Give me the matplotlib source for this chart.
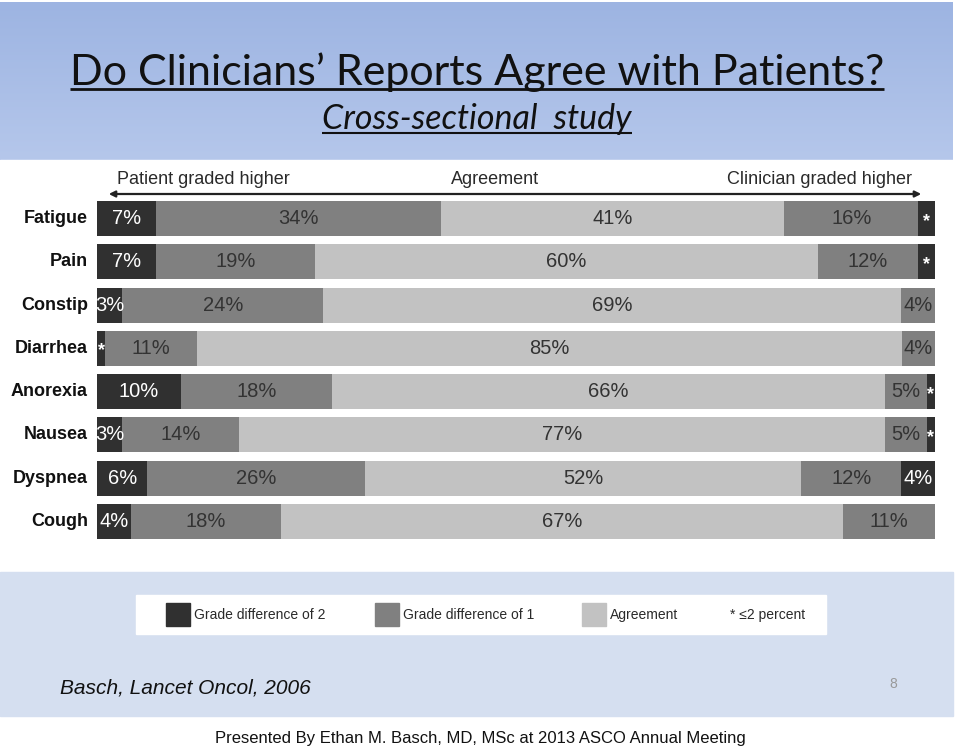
import numpy as np
import matplotlib
matplotlib.use("Agg")
import matplotlib.pyplot as plt
from matplotlib.patches import Rectangle
from matplotlib.colors import LinearSegmentedColormap

# values; star (<=2%) segments
symptoms = ["Fatigue", "Pain", "Constip", "Diarrhea", "Anorexia", "Nausea", "Dyspnea", "Cough"]
patient_grade2 = [7, 7, 3, 1, 10, 3, 6, 4]
patient_grade1 = [34, 19, 24, 11, 18, 14, 26, 18]
agreement = [41, 60, 69, 85, 66, 77, 52, 67]
clinician_grade1 = [16, 12, 4, 4, 5, 5, 12, 11]
clinician_grade2 = [2, 2, 0, 0, 1, 1, 4, 0]

patient_grade2_lbl = ["7%", "7%", "3%", "*", "10%", "3%", "6%", "4%"]
clinician_grade2_lbl = ["*", "*", "", "", "*", "*", "4%", ""]

legend_labels = ["Grade difference of 2", "Grade difference of 1", "Agreement"]

DARK, MID, LIGHT = "#303030", "#808080", "#c2c2c2"
ARIAL = ["Liberation Sans", "DejaVu Sans"]
TXT = "#2a2a2a"

fig = plt.figure(figsize=(9.59, 7.49), dpi=100)
fig.patch.set_facecolor("white")

# background "slide" in pixel coordinates
bg = fig.add_axes([0, 0, 1, 1])
bg.axis("off")
cmap = LinearSegmentedColormap.from_list("sky", ["#9db4e2", "#b5c7eb"])
bg.imshow(np.linspace(0, 1, 100).reshape(-1, 1), cmap=cmap, aspect="auto",
          extent=(0, 953, 160, 2))
bg.add_patch(Rectangle((0, 160), 953, 412, color="white"))
bg.add_patch(Rectangle((0, 572), 953, 144, color="#d5dff0"))
bg.set_xlim(0, 959)
bg.set_ylim(749, 0)

t1 = bg.text(477, 85, "Do Clinicians\u2019 Reports Agree with Patients?", fontsize=31,
             family=["Lato", "DejaVu Sans"], ha="center", va="baseline", color="#111")
t2 = bg.text(477, 129, "Cross-sectional  study", fontsize=24.5, style="italic",
             family=["Lato", "DejaVu Sans"], ha="center", va="baseline", color="#111")
renderer = fig.canvas.get_renderer()
inv = bg.transData.inverted()
for t, y, lw in [(t1, 89, 2.0), (t2, 133, 1.5)]:
    bb = t.get_window_extent(renderer)
    x0 = inv.transform((bb.x0, 0))[0]
    x1 = inv.transform((bb.x1, 0))[0]
    bg.plot([x0, x1], [y, y], color="#111", lw=lw, solid_capstyle="butt")

# direction header
bg.annotate("", xy=(106, 194), xytext=(924, 194),
            arrowprops=dict(arrowstyle="<|-|>", lw=1.6, color="#222", mutation_scale=9))
bg.text(117, 179, "Patient graded higher", ha="left", va="center", fontsize=13,
        family=ARIAL, color=TXT)
bg.text(495, 179, "Agreement", ha="center", va="center", fontsize=13,
        family=ARIAL, color=TXT)
bg.text(912, 179, "Clinician graded higher", ha="right", va="center", fontsize=13,
        family=ARIAL, color=TXT)

# legend box
bg.add_patch(Rectangle((136, 595), 690, 39, color="white"))
for x, c, lab in zip([166, 375, 582], [DARK, MID, LIGHT], legend_labels):
    bg.add_patch(Rectangle((x, 603), 24, 23, color=c))
    bg.text(x + 28, 615, lab, ha="left", va="center", fontsize=10, family=ARIAL, color=TXT)
bg.text(730, 615, "* \u22642 percent", ha="left", va="center", fontsize=10,
        family=ARIAL, color=TXT)

bg.text(60, 688, "Basch, Lancet Oncol, 2006", ha="left", va="center", fontsize=15,
        style="italic", family=ARIAL, color="#111")
bg.text(893, 684, "8", ha="center", va="center", fontsize=10, family=ARIAL, color="#999")
bg.text(480, 738, "Presented By Ethan M. Basch, MD, MSc at 2013 ASCO Annual Meeting",
        ha="center", va="center", fontsize=12, family=ARIAL, color="#111")

# the stacked bars
ax = fig.add_axes([97 / 959, 1 - 543 / 749, 838 / 959, 346 / 749])
ax.set_xlim(0, 100)
ax.set_ylim(7.5, -0.5)
ax.axis("off")

segs = np.array([patient_grade2, patient_grade1, agreement,
                 clinician_grade1, clinician_grade2], dtype=float)
segs = segs / segs.sum(axis=0) * 100
colors = [DARK, MID, LIGHT, MID, DARK]
y = np.arange(len(symptoms))
left = np.zeros(len(symptoms))
for k in range(segs.shape[0]):
    ax.barh(y, segs[k], left=left, height=0.81, color=colors[k], lw=0)
    for i in range(len(symptoms)):
        if segs[k, i] <= 0:
            continue
        cx = left[i] + segs[k, i] / 2
        if k == 0:
            lab = patient_grade2_lbl[i]
        elif k == 4:
            lab = clinician_grade2_lbl[i]
        else:
            lab = f"{[patient_grade1, agreement, clinician_grade1][k - 1][i]}%"
        if not lab:
            continue
        col = "white" if colors[k] == DARK else "#333"
        if lab == "*":
            ax.text(cx, i + 0.06, lab, ha="center", va="center", fontsize=13,
                    fontweight="bold", family=ARIAL, color="white")
        else:
            ax.text(cx, i, lab, ha="center", va="center", fontsize=14.5,
                    family=ARIAL, color=col)
    left += segs[k]

for i, name in enumerate(symptoms):
    ax.text(-1.1, i, name, ha="right", va="center", fontsize=13, fontweight="bold",
            family=ARIAL, color="#111", clip_on=False)

fig.savefig("out.png", dpi=100)
